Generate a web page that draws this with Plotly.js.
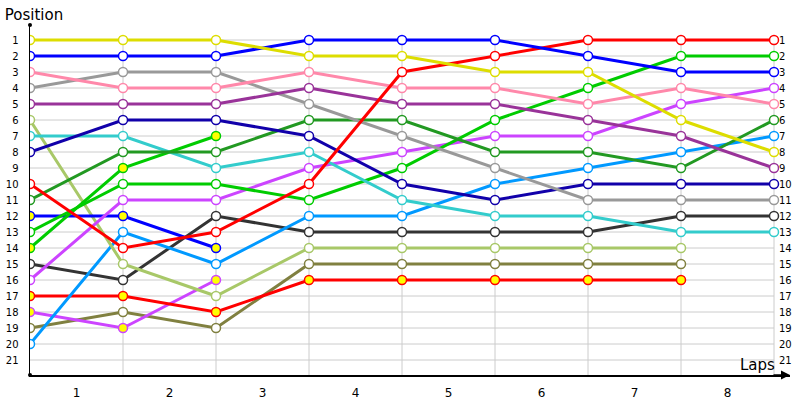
<!DOCTYPE html>
<html>
<head>
<meta charset="utf-8">
<script src="https://cdn.plot.ly/plotly-3.0.1.min.js"></script>
<style>html,body{margin:0;padding:0;background:#fff;}#chart{width:800px;height:400px;}</style>
</head>
<body>
<div id="chart"></div>
<script>
// Lap labels (shown between lap boundaries)
const lapLabels = ['1','2','3','4','5','6','7','8'];
const positions = [1,2,3,4,5,6,7,8,9,10,11,12,13,14,15,16,17,18,19,20,21];

// Position after each lap boundary (index 0 = start)
const yellow     = [1,1,1,2,2,3,3,6,8];
const blue       = [2,2,2,1,1,1,2,3,3];
const red        = [10,14,13,10,3,2,1,1,1];
const pink       = [3,4,4,3,4,4,5,4,5];
const gray       = [4,3,3,5,7,9,11,11,11];
const purple     = [5,5,5,4,5,5,6,7,9];
const lightGreen = [6,15,17,14,14,14,14,14];
const cyan       = [7,7,9,8,11,12,12,13,13];
const darkBlue   = [8,6,6,7,10,11,10,10,10];
const darkGreen  = [11,8,8,6,6,8,8,9,6];
const green      = [13,10,10,11,9,6,4,2,2];
const greenY     = [14,9,7];
const blueY      = [12,12,14];
const lightBlue  = [20,13,15,12,12,10,9,8,7];
const darkGray   = [15,16,12,13,13,13,13,12,12];
const violet     = [16,11,11,9,8,7,7,5,4];
const redY       = [17,17,18,16,16,16,16,16];
const violetY    = [18,19,16];
const olive      = [19,18,19,15,15,15,15,15];

const seriesList = [
  {name:'Olive', y: olive, color:'#808040', fill:'#fff'},
  {name:'Violet Y', y: violetY, color:'#cc44ff', fill:'#ffff00'},
  {name:'Red Y', y: redY, color:'#ff0000', fill:'#ffff00'},
  {name:'Dark gray', y: darkGray, color:'#333333', fill:'#fff'},
  {name:'Light blue', y: lightBlue, color:'#0099ff', fill:'#fff'},
  {name:'Light green', y: lightGreen, color:'#a8c868', fill:'#fff'},
  {name:'Blue Y', y: blueY, color:'#0000ff', fill:'#ffff00'},
  {name:'Violet', y: violet, color:'#cc44ff', fill:'#fff'},
  {name:'Green Y', y: greenY, color:'#00cc00', fill:'#ffff00'},
  {name:'Green', y: green, color:'#00cc00', fill:'#fff'},
  {name:'Cyan', y: cyan, color:'#33cccc', fill:'#fff'},
  {name:'Dark green', y: darkGreen, color:'#229922', fill:'#fff'},
  {name:'Dark blue', y: darkBlue, color:'#1100aa', fill:'#fff'},
  {name:'Gray', y: gray, color:'#999999', fill:'#fff'},
  {name:'Purple', y: purple, color:'#993399', fill:'#fff'},
  {name:'Pink', y: pink, color:'#ff88aa', fill:'#fff'},
  {name:'Red', y: red, color:'#ff0000', fill:'#fff'},
  {name:'Blue', y: blue, color:'#0000ff', fill:'#fff'},
  {name:'Yellow', y: yellow, color:'#dddd00', fill:'#fff'}
];

const traces = seriesList.map(s => ({
  type:'scatter', mode:'lines+markers', name:s.name,
  x: s.y.map((_, i) => i), y: s.y,
  line:{color:s.color, width:3},
  marker:{size:9, color:s.fill, line:{color:s.color, width:1.5}},
  showlegend:false, hoverinfo:'name+y'
}));
traces.push({type:'scatter', x:[null], y:[null], yaxis:'y2', showlegend:false, hoverinfo:'skip'});

const nLaps = lapLabels.length;
const xMax = nLaps * 760 / 744;
const yLow = 21.9375, yHigh = 0.0625;

const shapes = [];
positions.forEach(p => shapes.push({type:'line', xref:'x', yref:'y', x0:0, x1:nLaps, y0:p, y1:p,
  line:{color:'#cccccc', width:1}, layer:'below'}));
for (let i = 1; i <= nLaps; i++) {
  shapes.push({type:'line', xref:'x', yref:'y', x0:i, x1:i, y0:0.7, y1:yLow,
    line:{color:'#cccccc', width:1}, layer:'below'});
}
// small dot at top of y axis and origin
shapes.push({type:'circle', xref:'paper', yref:'paper', xsizemode:'pixel', ysizemode:'pixel',
  xanchor:0, yanchor:1, x0:-2, x1:2, y0:-2, y1:2, fillcolor:'#000', line:{width:0}});
shapes.push({type:'circle', xref:'paper', yref:'paper', xsizemode:'pixel', ysizemode:'pixel',
  xanchor:0, yanchor:0, x0:-2, x1:2, y0:-2, y1:2, fillcolor:'#000', line:{width:0}});

const font = 'Tahoma, "DejaVu Sans", Verdana, sans-serif';

const layout = {
  width:800, height:400,
  margin:{l:30, r:10, t:25, b:25},
  paper_bgcolor:'#fff', plot_bgcolor:'#fff',
  font:{family:font, color:'#000'},
  title:{text:'Position', x:0.006, xanchor:'left', xref:'container', y:1-15/400, yref:'container', yanchor:'middle',
    font:{size:15, family:font, color:'#000'}},
  xaxis:{range:[0, xMax], showgrid:false, zeroline:false, showline:true, linecolor:'#000', linewidth:1.5,
    tickvals: lapLabels.map((_, i) => i + 0.5), ticktext: lapLabels, ticks:'', ticklabelstandoff:6,
    tickfont:{size:12, family:font, color:'#000'}, fixedrange:true},
  yaxis:{range:[yLow, yHigh], showgrid:false, zeroline:false, showline:true, linecolor:'#000', linewidth:1.5,
    tickvals: positions, ticktext: positions.map(String), ticks:'', ticklabelstandoff:8,
    tickfont:{size:10, family:font, color:'#000'}, fixedrange:true},
  yaxis2:{range:[yLow, yHigh], overlaying:'y', anchor:'free', position:744/760, side:'right',
    showgrid:false, zeroline:false, showline:false,
    tickvals: positions, ticktext: positions.map(String), ticks:'', ticklabelstandoff:4,
    tickfont:{size:10, family:font, color:'#000'}, fixedrange:true},
  shapes: shapes,
  annotations:[
    {xref:'paper', yref:'paper', x:1, y:0, ax:-18, ay:0, text:'', showarrow:true,
      arrowhead:2, arrowsize:1.2, arrowwidth:1.5, arrowcolor:'#000'},
    {xref:'paper', yref:'paper', x:747/760, y:10/350, xanchor:'right', yanchor:'middle',
      text:'Laps', showarrow:false, font:{size:15, family:font, color:'#000'}}
  ]
};

Plotly.newPlot('chart', traces, layout, {displayModeBar:false, staticPlot:true});
</script>
</body>
</html>
